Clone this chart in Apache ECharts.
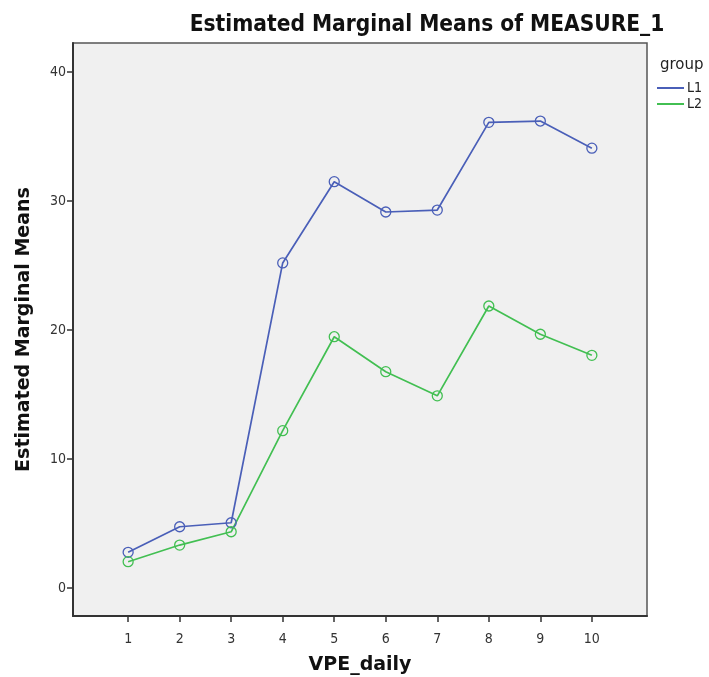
<!DOCTYPE html>
<html>
<head>
<meta charset="utf-8">
<script src="https://cdn.jsdelivr.net/npm/echarts@6/dist/echarts.min.js"></script>
<style>
  html, body { margin: 0; padding: 0; background: #fff; }
  #chart { width: 709px; height: 677px; }
</style>
</head>
<body>
<div id="chart"></div>
<script>
// VPE_daily levels
var xLevels = [1, 2, 3, 4, 5, 6, 7, 8, 9, 10];
var yTicks = [0, 10, 20, 30, 40];
// estimated marginal means per group
var l1 = [2.77, 4.75, 5.06, 25.2, 31.5, 29.15, 29.3, 36.1, 36.2, 34.1];
var l2 = [2.04, 3.33, 4.36, 12.2, 19.48, 16.77, 14.9, 21.86, 19.67, 18.04];

function pairs(vals) {
    var out = [];
    for (var i = 0; i < xLevels.length; i++) {
        out.push([xLevels[i], vals[i]]);
    }
    return out;
}

var blue = '#4a5fb8';
var green = '#42bf52';

var chart = echarts.init(document.getElementById('chart'));

var option = {
    animation: false,
    title: [
        {
            text: 'Estimated Marginal Means of MEASURE_1',
            left: 422, top: 9, textAlign: 'center',
            textStyle: { fontFamily: 'DejaVu Sans Condensed', fontWeight: 'bold', fontSize: 22.5, color: '#111' }
        },
        {
            text: 'group',
            left: 655, top: 53,
            textStyle: { fontFamily: 'DejaVu Sans', fontWeight: 'normal', fontSize: 15, color: '#222' }
        }
    ],
    legend: {
        orient: 'vertical',
        left: 657, top: 81,
        padding: 0,
        itemWidth: 27, itemHeight: 2, itemGap: 2,
        icon: 'rect',
        textStyle: { fontFamily: 'DejaVu Sans Condensed', fontSize: 14, lineHeight: 14, color: '#222', padding: [0, 0, 0, -2] },
        data: ['L1', 'L2']
    },
    grid: {
        left: 73, top: 43, right: 62, bottom: 61,
        outerBoundsMode: 'none',
        containLabel: false,
        show: true,
        backgroundColor: '#f0f0f0',
        borderColor: '#555',
        borderWidth: 1.5
    },
    xAxis: {
        type: 'value',
        min: -0.07, max: 11.07,
        name: 'VPE_daily',
        nameLocation: 'middle',
        nameGap: 40,
        nameTextStyle: { fontFamily: 'DejaVu Sans', fontWeight: 'bold', fontSize: 19, color: '#111' },
        splitLine: { show: false },
        axisLine: { show: true, onZero: false, lineStyle: { color: '#333', width: 2 } },
        axisTick: { show: true, length: 6, customValues: xLevels, lineStyle: { color: '#333', width: 1.5 } },
        axisLabel: { customValues: xLevels, margin: 16, fontFamily: 'DejaVu Sans Condensed', fontSize: 14, color: '#333' }
    },
    yAxis: {
        type: 'value',
        min: -2.17, max: 42.25,
        name: 'Estimated Marginal Means',
        nameLocation: 'middle',
        nameGap: 39,
        nameTextStyle: { fontFamily: 'DejaVu Sans', fontWeight: 'bold', fontSize: 19, color: '#111' },
        splitLine: { show: false },
        axisLine: { show: true, onZero: false, lineStyle: { color: '#333', width: 2 } },
        axisTick: { show: true, length: 6, customValues: yTicks, lineStyle: { color: '#333', width: 1.5 } },
        axisLabel: { customValues: yTicks, margin: 7, fontFamily: 'DejaVu Sans Condensed', fontSize: 14, color: '#333' }
    },
    series: [
        {
            name: 'L1', type: 'line', data: pairs(l1),
            symbol: 'circle', symbolSize: 10,
            lineStyle: { width: 1.7, color: blue },
            itemStyle: { color: 'rgba(0,0,0,0)', borderColor: blue, borderWidth: 1.3 }
        },
        {
            name: 'L2', type: 'line', data: pairs(l2),
            symbol: 'circle', symbolSize: 10,
            lineStyle: { width: 1.7, color: green },
            itemStyle: { color: 'rgba(0,0,0,0)', borderColor: green, borderWidth: 1.3 }
        }
    ]
};

// legend swatches use the line colours rather than the transparent fill
option.legend.data = [
    { name: 'L1', itemStyle: { color: blue, borderWidth: 0 } },
    { name: 'L2', itemStyle: { color: green, borderWidth: 0 } }
];

chart.setOption(option);
</script>
</body>
</html>
